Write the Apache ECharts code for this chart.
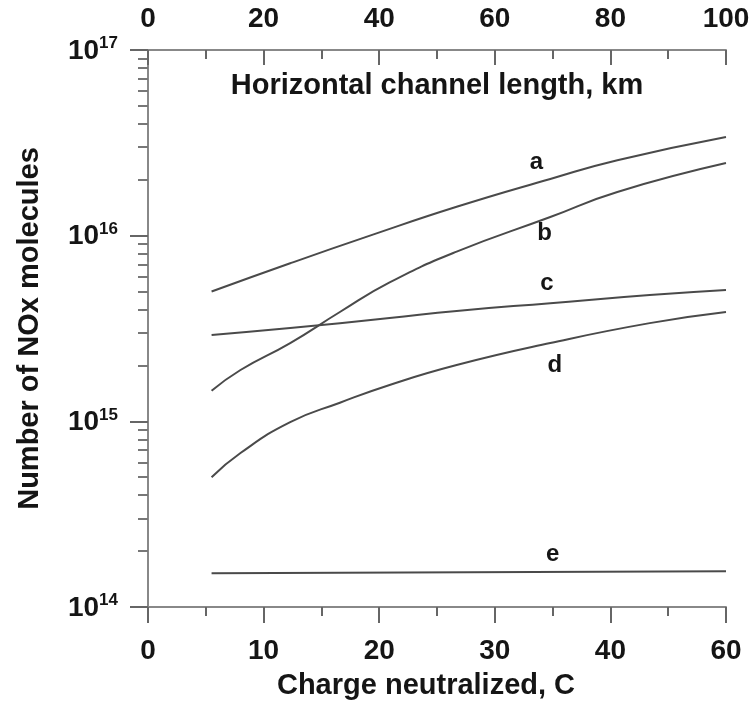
<!DOCTYPE html>
<html>
<head>
<meta charset="utf-8">
<script src="https://cdn.jsdelivr.net/npm/echarts@6/dist/echarts.min.js"></script>
<style>
html,body{margin:0;padding:0;background:#fff;}
#chart{width:753px;height:705px;}
</style>
</head>
<body>
<div id="chart"></div>
<script>
// 曲线数据（横坐标：电荷量 C，纵坐标：NOx 分子数）
var chargeA = [5.5, 12.3, 19.2, 26.7, 34.8, 40.6, 50];
var valuesA = [5.0e15, 7.1e15, 1.0e16, 1.43e16, 2.02e16, 2.55e16, 3.4e16];
var chargeB = [5.5, 8, 12.3, 16.6, 20.9, 26.7, 34.8, 40.6, 50];
var valuesB = [1.46e15, 1.89e15, 2.64e15, 3.88e15, 5.6e15, 8.2e15, 1.26e16, 1.72e16, 2.46e16];
var chargeC = [5.5, 12.3, 20.9, 26.7, 34.8, 43.4, 50];
var valuesC = [2.92e15, 3.18e15, 3.6e15, 3.93e15, 4.33e15, 4.79e15, 5.1e15];
var chargeD = [5.5, 8, 12.3, 16.6, 20.9, 26.7, 34.8, 43.4, 50];
var valuesD = [5.0e14, 6.75e14, 9.9e14, 1.26e15, 1.57e15, 2.01e15, 2.64e15, 3.38e15, 3.88e15];
var chargeE = [5.5, 50];
var valuesE = [1.52e14, 1.56e14];
// 曲线名称及标注位置
var curveNames = ['a', 'b', 'c', 'd', 'e'];
var labelCharge = [33.6, 34.3, 34.5, 35.2, 35.0];
var labelValue = [2.49e16, 1.03e16, 5.56e15, 2.01e15, 1.91e14];
// 刻度
var bottomTickLabels = ['0', '10', '20', '30', '40', '60'];
var yMajorTicks = [1e14, 1e15, 1e16, 1e17];
var yMinorTicks = [];
for (var dec = 14; dec < 17; dec++) {
	for (var m = 2; m <= 9; m++) {
		yMinorTicks.push(m * Math.pow(10, dec));
	}
}

var TEXT = '#151515';
var AXIS = '#888';
var FONT = 'Liberation Sans';

function pairs(xs, ys) {
	var out = [];
	for (var i = 0; i < xs.length; i++) {
		out.push([xs[i], ys[i]]);
	}
	return out;
}

var curves = [[chargeA, valuesA], [chargeB, valuesB], [chargeC, valuesC], [chargeD, valuesD], [chargeE, valuesE]];
var series = [];
for (var i = 0; i < curves.length; i++) {
	series.push({
		name: curveNames[i],
		type: 'line',
		xAxisIndex: 0,
		yAxisIndex: 0,
		smooth: true,
		symbol: 'none',
		lineStyle: {color: '#4a4a4a', width: 2},
		data: pairs(curves[i][0], curves[i][1]),
		markPoint: {
			symbol: 'circle',
			symbolSize: 1,
			itemStyle: {color: 'rgba(0,0,0,0)'},
			label: {show: true, position: 'inside', formatter: curveNames[i], color: TEXT, fontSize: 24, fontWeight: 'bold', fontFamily: FONT},
			data: [{coord: [labelCharge[i], labelValue[i]]}]
		}
	});
}

var myChart = echarts.init(document.getElementById('chart'));
var option = {
	animation: false,
	backgroundColor: '#fff',
	grid: {left: 148, right: 27, top: 50, bottom: 98},
	xAxis: [
		{
			type: 'value',
			position: 'bottom',
			min: 0,
			max: 50,
			interval: 10,
			name: 'Charge neutralized, C',
			nameLocation: 'middle',
			nameGap: 64,
			nameTextStyle: {color: TEXT, fontSize: 29, fontWeight: 'bold', fontFamily: FONT, padding: [0, 22, 0, 0]},
			axisLine: {show: true, lineStyle: {color: AXIS, width: 2}},
			axisTick: {show: true, inside: false, length: 16, lineStyle: {color: '#666', width: 2}},
			minorTick: {show: true, splitNumber: 2, length: 9, lineStyle: {color: '#666', width: 2}},
			axisLabel: {
				margin: 30,
				color: TEXT,
				fontSize: 28,
				fontWeight: 'bold',
				fontFamily: FONT,
				formatter: function(v) { return bottomTickLabels[Math.round(v / 10)]; }
			},
			splitLine: {show: false}
		},
		{
			type: 'value',
			position: 'top',
			min: 0,
			max: 100,
			interval: 20,
			name: 'Horizontal channel length, km',
			nameLocation: 'middle',
			nameGap: -50,
			nameTextStyle: {color: TEXT, fontSize: 29, fontWeight: 'bold', fontFamily: FONT},
			axisLine: {show: true, lineStyle: {color: AXIS, width: 2}},
			axisTick: {show: true, inside: true, length: 15, lineStyle: {color: '#666', width: 2}},
			minorTick: {show: true, splitNumber: 2, length: 9, lineStyle: {color: '#666', width: 2}},
			axisLabel: {margin: 17, color: TEXT, fontSize: 28, fontWeight: 'bold', fontFamily: FONT},
			splitLine: {show: false}
		}
	],
	yAxis: [
		{
			type: 'log',
			logBase: 10,
			position: 'left',
			min: 1e14,
			max: 1e17,
			name: 'Number of NOx molecules',
			nameLocation: 'middle',
			nameGap: 104,
			nameTextStyle: {color: TEXT, fontSize: 29, fontWeight: 'bold', fontFamily: FONT},
			axisLine: {show: true, lineStyle: {color: AXIS, width: 2}},
			axisTick: {show: true, length: 18, customValues: yMajorTicks, lineStyle: {color: '#666', width: 2}},
			axisLabel: {
				margin: 30,
				customValues: yMajorTicks,
				formatter: function(v) {
					return '{b|10}{s|' + Math.round(Math.log10(v)) + '}';
				},
				rich: {
					b: {color: TEXT, fontSize: 28, fontWeight: 'bold', fontFamily: FONT, lineHeight: 30, verticalAlign: 'bottom'},
					s: {color: TEXT, fontSize: 17, fontWeight: 'bold', fontFamily: FONT, lineHeight: 30, verticalAlign: 'top'}
				}
			},
			splitLine: {show: false}
		},
		{
			// 只用来画对数副刻度
			type: 'log',
			logBase: 10,
			position: 'left',
			min: 1e14,
			max: 1e17,
			axisLine: {show: false},
			axisTick: {show: true, length: 10, customValues: yMinorTicks, lineStyle: {color: '#777', width: 2}},
			axisLabel: {show: false},
			splitLine: {show: false}
		}
	],
	series: series
};
myChart.setOption(option);
</script>
</body>
</html>
